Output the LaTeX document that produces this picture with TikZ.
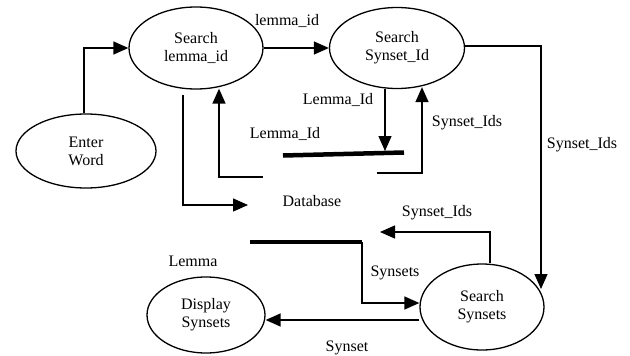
\documentclass[tikz,border=0pt]{standalone}
\usepackage{fontspec}
\setmainfont{Liberation Serif}
\usetikzlibrary{arrows.meta, positioning, shapes.geometric, calc}

\begin{document}
\begin{tikzpicture}[x=1pt, y=-1pt, >={Triangle[length=15pt, width=13pt]}, line width=1.4pt,
    proc/.style={draw, ellipse, line width=1.3pt, align=center, inner sep=0pt, font=\fontsize{16}{18}\selectfont},
    lbl/.style={inner sep=0pt, font=\fontsize{16}{18}\selectfont},
    store/.style={line width=4.5pt}]
  \useasboundingbox (0,0) rectangle (630,356);

  % Procesy
  \node[proc, minimum width=140pt, minimum height=74pt] (enter) at (86,151) {Enter\\Word};
  \node[proc, minimum width=134pt, minimum height=82pt] (lemma) at (196,48) {Search\\lemma\_id};
  \node[proc, minimum width=135pt, minimum height=81pt] (synid) at (397,48) {Search\\Synset\_Id};
  \node[proc, minimum width=124pt, minimum height=86pt] (ssyn) at (482,307) {Search\\Synsets};
  \node[proc, minimum width=118pt, minimum height=76pt] (disp) at (206,315) {Display\\Synsets};

  % Databáze
  \coordinate (barA) at (283,155.5);
  \coordinate (barB) at (404,152.5);
  \coordinate (barC) at (250,242);
  \coordinate (barD) at (362,242);
  \draw[store] (barA) -- (barB);
  \draw[store] (barC) -- (barD);
  \node[lbl] (db) at (312,201) {Database};

  % Toky
  \coordinate (dn1) at (183,95);
  \coordinate (dbw) at (248,205);
  \coordinate (db1) at (263,177);
  \coordinate (db2) at (377,173);
  \coordinate (ld) at (385,151);
  \coordinate (dbr) at (380,232);
  \coordinate (sr) at (541,289);

  \draw[->] ([xshift=-2pt]enter.north) |- (lemma.west);
  \draw[->] (lemma.east) -- (synid.west);
  \draw[->] (dn1) |- (dbw);
  \draw[->] (db1) -| ([xshift=23pt, yshift=1pt]lemma.south);
  \draw[->] (synid.south -| ld) -- (ld);
  \draw[->] (db2) -| ([xshift=25pt, yshift=2pt]synid.south);
  \draw[->] ([yshift=2pt]synid.east) -| (sr);
  \draw[->] ([xshift=8pt]ssyn.north) |- (dbr);
  \draw[->] (barD) |- ([yshift=4pt]ssyn.west);
  \draw[->] ([yshift=-13pt]ssyn.west) -- ([yshift=-13pt]ssyn.west -| disp.east);

  % Popisky
  \node[lbl] (t1) at (287,21) {lemma\_id};
  \node[lbl] (t2) at (338,100) {Lemma\_Id};
  \node[lbl] (t3) at (285,134) {Lemma\_Id};
  \node[lbl] (t4) at (467,123) {Synset\_Ids};
  \node[lbl] (t5) at (582,145) {Synset\_Ids};
  \node[lbl] (t6) at (437,213) {Synset\_Ids};
  \node[lbl] (t7) at (395,273) {Synsets};
  \node[lbl] (t8) at (347,348) {Synset};
  \node[lbl] (t9) at (193,261) {Lemma};
\end{tikzpicture}
\end{document}
